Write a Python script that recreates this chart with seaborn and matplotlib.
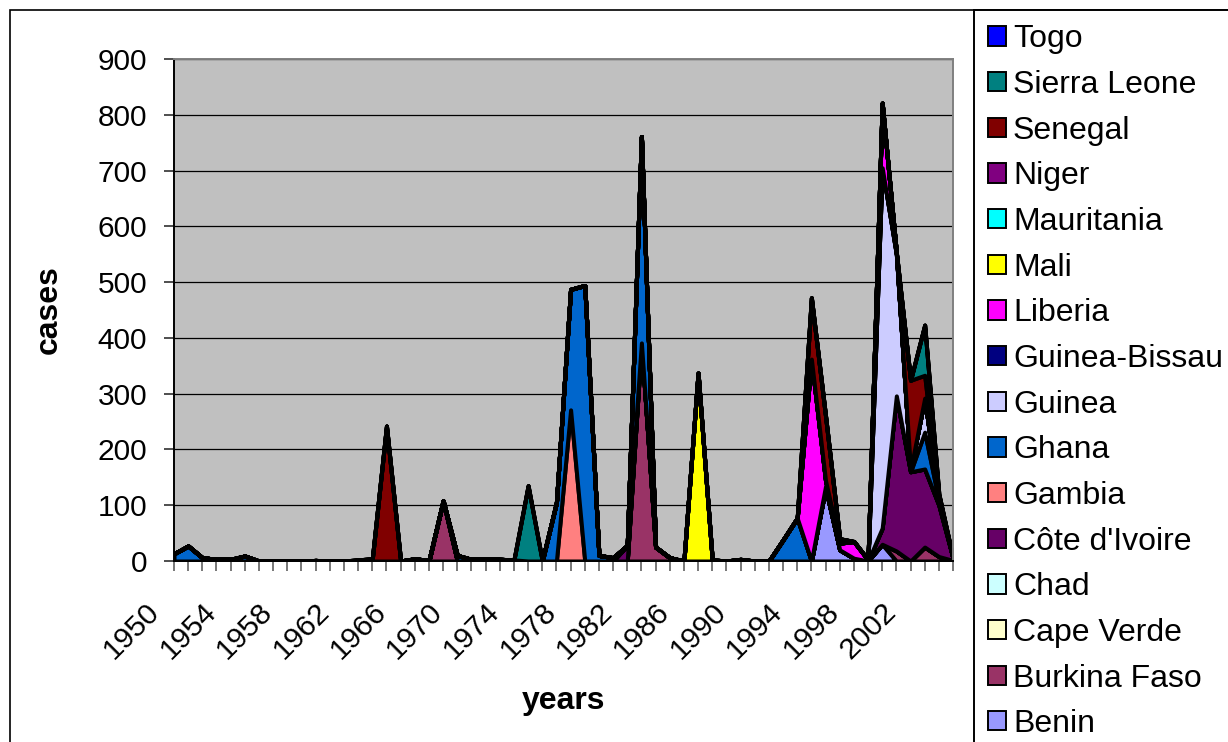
import matplotlib
matplotlib.use("Agg")
import matplotlib.pyplot as plt
import matplotlib.transforms as mtransforms
from matplotlib.patches import Patch, Rectangle
import seaborn as sns

# ---- data: reported cases per country and year (1950-2005) ----
years = list(range(1950, 2006))
year_labels = ["1950", "1954", "1958", "1962", "1966", "1970", "1974",
               "1978", "1982", "1986", "1990", "1994", "1998", "2002"]
label_years = [1950, 1954, 1958, 1962, 1966, 1970, 1974,
               1978, 1982, 1986, 1990, 1994, 1998, 2002]

#            1950s                          1960s                            1970s                              1980s                          1990s                               2000-2005
benin =     [0, 0, 0, 0, 0, 0, 0, 0, 0, 0,  0, 0, 0, 0, 0, 0, 0, 0, 0, 0,    0, 0, 0, 0, 0, 0, 0, 0, 0, 0,      0, 0, 0, 0, 0, 0, 0, 0, 0, 0,  0, 0, 0, 0, 0, 0, 131, 20, 5, 0,    30, 0, 0, 0, 0, 0]
burkina =   [0, 0, 0, 0, 0, 0, 0, 0, 0, 0,  0, 0, 0, 0, 0, 0, 0, 0, 0, 108,  0, 0, 0, 0, 0, 0, 0, 0, 0, 0,      0, 0, 0, 391, 25, 6, 0, 0, 0, 0, 0, 0, 0, 0, 0, 0, 0, 0, 0, 0,     0, 18, 0, 25, 8, 1]
cape_verde = [0, 0, 0, 0, 0, 0, 0, 0, 0, 0, 0, 0, 0, 0, 0, 0, 0, 0, 0, 0,    0, 0, 0, 0, 0, 0, 0, 0, 0, 0,      0, 0, 0, 0, 0, 0, 0, 0, 0, 0,  0, 0, 0, 0, 0, 0, 0, 0, 0, 0,       0, 0, 0, 0, 0, 0]
chad =      [0, 0, 0, 0, 0, 0, 0, 0, 0, 0,  0, 0, 0, 0, 0, 0, 0, 0, 0, 0,    0, 0, 0, 0, 0, 0, 0, 0, 0, 0,      0, 0, 0, 0, 0, 0, 0, 0, 0, 0,  0, 0, 0, 0, 0, 0, 0, 0, 0, 0,       0, 0, 0, 0, 0, 0]
cote_divoire = [0, 0, 0, 0, 0, 0, 0, 0, 0, 0, 0, 0, 0, 0, 0, 0, 0, 0, 0, 0, 0, 0, 0, 0, 0, 0, 0, 0, 0, 0,      0, 0, 28, 0, 0, 0, 0, 0, 0, 0, 0, 0, 0, 0, 0, 0, 0, 0, 0, 0,      29, 278, 160, 140, 92, 4]
gambia =    [0, 0, 0, 0, 0, 0, 0, 0, 0, 0,  0, 0, 0, 0, 0, 0, 0, 0, 0, 0,    0, 0, 0, 0, 0, 0, 0, 0, 271, 0,    0, 0, 0, 0, 0, 0, 0, 0, 0, 0,  0, 0, 0, 0, 0, 0, 0, 0, 0, 0,       0, 0, 0, 0, 0, 0]
ghana =     [13, 27, 6, 3, 3, 9, 0, 0, 0, 0, 1, 0, 0, 0, 0, 0, 0, 4, 1, 0,   10, 3, 3, 3, 2, 0, 0, 105, 216, 494, 10, 6, 0, 370, 0, 0, 0, 0, 0, 0, 0, 0, 0, 38, 77, 0, 3, 0, 0, 0,   0, 0, 0, 66, 8, 0]
guinea =    [0, 0, 0, 0, 0, 0, 0, 0, 0, 0,  0, 0, 0, 0, 0, 0, 0, 0, 0, 0,    0, 0, 0, 0, 0, 0, 0, 0, 0, 0,      0, 0, 0, 0, 0, 0, 0, 0, 0, 0,  0, 0, 0, 0, 0, 0, 0, 0, 0, 0,       646, 254, 3, 61, 0, 0]
guinea_bissau = [0, 0, 0, 0, 0, 0, 0, 0, 0, 0, 0, 0, 0, 0, 0, 0, 0, 0, 0, 0, 0, 0, 0, 0, 0, 0, 0, 0, 0, 0,    0, 0, 0, 0, 0, 0, 0, 0, 0, 0,  0, 0, 0, 0, 0, 0, 0, 0, 0, 0,       0, 0, 0, 0, 0, 0]
liberia =   [0, 0, 0, 0, 0, 0, 0, 0, 0, 0,  0, 0, 0, 0, 0, 0, 0, 0, 0, 0,    0, 0, 0, 0, 0, 0, 0, 0, 0, 0,      0, 0, 0, 0, 0, 0, 0, 0, 0, 0,  0, 0, 0, 0, 0, 362, 10, 12, 30, 2,  116, 3, 0, 0, 0, 0]
mali =      [0, 0, 0, 0, 0, 0, 0, 0, 0, 0,  0, 0, 0, 0, 0, 0, 0, 0, 0, 0,    0, 0, 0, 0, 0, 0, 0, 0, 0, 0,      0, 0, 0, 0, 0, 0, 0, 337, 2, 0, 3, 0, 0, 0, 0, 0, 0, 0, 0, 0,      0, 0, 0, 0, 0, 0]
mauritania = [0, 0, 0, 0, 0, 0, 0, 0, 0, 0, 0, 0, 0, 0, 0, 0, 0, 0, 0, 0,    0, 0, 0, 0, 0, 0, 0, 0, 0, 0,      0, 0, 0, 0, 0, 0, 0, 0, 0, 0,  0, 0, 0, 0, 0, 0, 0, 0, 0, 0,       0, 0, 0, 0, 0, 0]
niger =     [0, 0, 0, 0, 0, 0, 0, 0, 0, 0,  0, 0, 0, 0, 0, 0, 0, 0, 0, 0,    0, 0, 0, 0, 0, 0, 0, 0, 0, 0,      0, 0, 0, 0, 0, 0, 0, 0, 0, 0,  0, 0, 0, 0, 0, 0, 0, 0, 0, 0,       0, 0, 0, 0, 0, 0]
senegal =   [0, 0, 0, 0, 0, 0, 0, 0, 0, 0,  0, 0, 0, 2, 4, 242, 0, 0, 0, 0,  0, 0, 0, 0, 0, 0, 0, 0, 0, 0,      0, 0, 0, 0, 0, 0, 0, 0, 0, 0,  0, 0, 0, 0, 0, 110, 116, 8, 0, 0,   0, 0, 161, 41, 5, 0]
sierra_leone = [0, 0, 0, 0, 0, 0, 0, 0, 0, 0, 0, 0, 0, 0, 0, 0, 0, 0, 0, 0, 0, 0, 0, 0, 0, 135, 0, 0, 0, 0,    0, 0, 0, 0, 0, 0, 0, 0, 0, 0,  0, 0, 0, 0, 0, 0, 0, 0, 0, 0,       0, 0, 0, 90, 7, 0]
togo =      [0, 0, 0, 0, 0, 0, 0, 0, 0, 0,  0, 0, 0, 0, 0, 0, 0, 0, 0, 0,    0, 0, 0, 0, 0, 0, 0, 0, 0, 0,      0, 0, 0, 0, 0, 0, 0, 0, 0, 0,  0, 0, 0, 0, 0, 0, 0, 0, 0, 0,       0, 0, 0, 0, 0, 0]

# stacking order, bottom to top
countries = ["Benin", "Burkina Faso", "Cape Verde", "Chad", "Côte d'Ivoire",
             "Gambia", "Ghana", "Guinea", "Guinea-Bissau", "Liberia", "Mali",
             "Mauritania", "Niger", "Senegal", "Sierra Leone", "Togo"]
series = [benin, burkina, cape_verde, chad, cote_divoire, gambia, ghana,
          guinea, guinea_bissau, liberia, mali, mauritania, niger, senegal,
          sierra_leone, togo]
colors = ["#9999FF", "#993366", "#FFFFCC", "#CCFFFF", "#660066", "#FF8080",
          "#0066CC", "#CCCCFF", "#000080", "#FF00FF", "#FFFF00", "#00FFFF",
          "#800080", "#800000", "#008080", "#0000FF"]

# ---- style ----
sns.set_style("white")
plt.rcParams["font.family"] = ["Liberation Sans", "DejaVu Sans"]
for key in ("text.color", "axes.labelcolor", "xtick.color", "ytick.color"):
    plt.rcParams[key] = "black"

W, H = 1228, 742
fig = plt.figure(figsize=(W / 100, H / 100), dpi=100)
fig.patch.set_facecolor("white")

# plot area in pixel geometry
px_l, px_r, px_t, px_b = 174, 953, 59, 561
ax = fig.add_axes([px_l / W, 1 - px_b / H, (px_r - px_l) / W, (px_b - px_t) / H])
ax.set_facecolor("#C0C0C0")
ax.set_axisbelow(True)

polys = ax.stackplot(years, *series, colors=colors, edgecolor="black",
                     linewidth=2.9, labels=countries)
for p in polys:
    p.set_joinstyle("round")

ax.set_xlim(1950, 2005)
ax.set_ylim(0, 900)
ax.set_yticks(range(0, 901, 100))
ax.yaxis.grid(True, color="black", linewidth=0.9)
ax.xaxis.grid(False)

ax.set_xticks(label_years)
ax.set_xticklabels(year_labels, rotation=45, ha="right", va="center",
                   rotation_mode="anchor", fontsize=21.5)
ax.set_xticks(years, minor=True)
ax.tick_params(axis="x", which="both", direction="out", length=7.2,
               width=1.2, color="#606060", pad=26.5, bottom=True)
ax.tick_params(axis="y", direction="out", length=7.2, width=1.2,
               color="#303030", labelsize=21.5, pad=12, left=True)
shift = mtransforms.ScaledTranslation(-19 / 100, 0, fig.dpi_scale_trans)
for lbl in ax.get_xticklabels():
    lbl.set_transform(lbl.get_transform() + shift)

for side in ("top", "right"):
    ax.spines[side].set_color("#808080")
    ax.spines[side].set_linewidth(1.4)
for side in ("left", "bottom"):
    ax.spines[side].set_color("black")
    ax.spines[side].set_linewidth(1.4)

ax.set_ylabel("cases", fontsize=23, fontweight="bold")
ax.yaxis.set_label_coords((47 - px_l) / (px_r - px_l) + 0.022, 0.5)
ax.set_xlabel("years", fontsize=23, fontweight="bold")
ax.xaxis.label.set_va("baseline")
ax.xaxis.set_label_coords(0.5, (px_b - 709) / (px_b - px_t))

# legend: topmost series listed first
handles = [Patch(facecolor=c, edgecolor="black", linewidth=1.4)
           for c in colors][::-1]
leg = fig.legend(handles, countries[::-1], loc="upper left",
                 bbox_to_anchor=(974 / W, 1 - 10 / H), fontsize=23,
                 frameon=True, fancybox=False, framealpha=1,
                 edgecolor="black", borderpad=0.45, labelspacing=0.49,
                 handlelength=0.55, handleheight=0.55, handletextpad=0.22,
                 borderaxespad=0)
leg.get_frame().set_linewidth(1.4)

# outer chart frame
fig.add_artist(Rectangle((10 / W, -0.5), 2, 1 - 10 / H + 0.5,
                         transform=fig.transFigure, fill=False,
                         edgecolor="black", linewidth=1.2, zorder=0))

fig.savefig("out.png", dpi=100)
